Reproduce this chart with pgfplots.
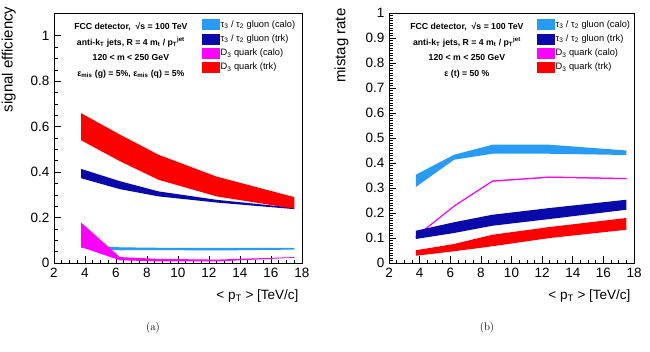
\documentclass[border=0pt]{standalone}
\usepackage{fontspec}
\setsansfont{Liberation Sans}
\usepackage{pgfplots}
\pgfplotsset{compat=1.18}
\definecolor{lblue}{RGB}{40,155,245}
\definecolor{dblue}{RGB}{10,10,170}
\definecolor{mag}{RGB}{255,0,255}
\definecolor{rred}{RGB}{255,0,0}
\pgfplotsset{rootstyle/.style={
  scale only axis, height=250pt, anchor=south west,
  xmin=2, xmax=18, xtick={2,4,...,18}, minor x tick num=3,
  tick pos=left, tick align=inside,
  major tick length=7pt, minor tick length=3.5pt,
  every tick/.style={black, line width=0.6pt},
  axis line style={line width=0.7pt},
  tick label style={font=\sffamily\fontsize{13.5}{13.5}\selectfont},
  xticklabel shift=2pt, yticklabel shift=1pt,
  /pgf/number format/assume math mode=true,
  xlabel={< p\textsubscript{T} > [TeV/c]},
  xlabel style={font=\sffamily\fontsize{13.5}{13.5}\selectfont, at={(axis description cs:1,0)}, anchor=north east, yshift=-23pt},
  ylabel style={font=\sffamily\fontsize{15}{15}\selectfont, anchor=south east},
  legend cell align=left,
  legend style={draw=none, fill=none, font=\sffamily\fontsize{9.3}{9.3}\selectfont, anchor=north west, inner sep=0pt,
    row sep=3.2pt, nodes={inner sep=1pt, text height=7pt, text depth=2pt}},
}}
\newcommand{\swatch}[1]{\addlegendimage{legend image code/.code={\fill[#1] (0pt,-5pt) rectangle (17pt,5pt);}}}
\begin{document}
\begin{tikzpicture}
\path[use as bounding box] (0,0) rectangle (650pt,351pt);
% ---------------- (a)
\begin{axis}[rootstyle, at={(54pt,88pt)}, width=248pt,
  ymin=0, ymax=1.1, ytick={0,0.2,...,1.0}, minor y tick num=3,
  ylabel={signal efficiency}, ylabel style={at={(axis description cs:-0.14,1.04)}},
  legend style={at={(rel axis cs:0.597,0.976)}}]
\addplot[fill=lblue, draw=none, forget plot] coordinates {(3.75,0.080)(6.25,0.069)(8.75,0.067)(12.5,0.066)(17.5,0.067)
  (17.5,0.059)(12.5,0.055)(8.75,0.057)(6.25,0.056)(3.75,0.066)} -- cycle;
\addplot[fill=mag, draw=none, forget plot] coordinates {(3.75,0.178)(6.25,0.026)(8.75,0.018)(12.5,0.015)(17.5,0.026)
  (17.5,0.023)(12.5,0.007)(8.75,0.007)(6.25,0.012)(3.75,0.070)} -- cycle;
\addplot[fill=dblue, draw=none, forget plot] coordinates {(3.75,0.414)(6.25,0.360)(8.75,0.315)(12.5,0.278)(17.5,0.243)
  (17.5,0.237)(12.5,0.266)(8.75,0.293)(6.25,0.325)(3.75,0.373)} -- cycle;
\addplot[fill=rred, draw=none, forget plot] coordinates {(3.75,0.659)(6.25,0.565)(8.75,0.476)(12.5,0.380)(17.5,0.290)
  (17.5,0.239)(12.5,0.293)(8.75,0.366)(6.25,0.448)(3.75,0.540)} -- cycle;
\swatch{lblue}\addlegendentry{τ\textsubscript{3} / τ\textsubscript{2} gluon (calo)}
\swatch{dblue}\addlegendentry{τ\textsubscript{3} / τ\textsubscript{2} gluon (trk)}
\swatch{mag}\addlegendentry{D\textsubscript{3} quark (calo)}
\swatch{rred}\addlegendentry{D\textsubscript{3} quark (trk)}
\node[anchor=north, align=center, font=\sffamily\bfseries\fontsize{8.7}{15.5}\selectfont] at (rel axis cs:0.31,0.975)
  {FCC detector, \ √s = 100 TeV\\ anti-k\textsubscript{T} jets, R = 4 m\textsubscript{t} / p\textsubscript{T}\textsuperscript{jet}\\ 120 < m < 250 GeV\\ ε\textsubscript{mis} (g) = 5\%, ε\textsubscript{mis} (q) = 5\%};
\end{axis}
% ---------------- (b)
\begin{axis}[rootstyle, at={(389pt,88pt)}, width=245pt,
  ymin=0, ymax=1, ytick={0,0.1,...,1.0}, minor y tick num=9,
  ylabel={mistag rate}, ylabel style={at={(axis description cs:-0.151,1.032)}},
  legend style={at={(rel axis cs:0.604,0.976)}}]
\addplot[fill=lblue, draw=none, forget plot] coordinates {(3.75,0.353)(6.25,0.433)(8.75,0.473)(12.5,0.473)(17.5,0.450)
  (17.5,0.432)(12.5,0.437)(8.75,0.437)(6.25,0.413)(3.75,0.304)} -- cycle;
\addplot[fill=mag, draw=mag, line width=0.5pt, forget plot] coordinates {(3.75,0.107)(6.25,0.229)(8.75,0.329)(12.5,0.345)(17.5,0.339)
  (17.5,0.336)(12.5,0.342)(8.75,0.326)(6.25,0.226)(3.75,0.104)} -- cycle;
\addplot[fill=dblue, draw=none, forget plot] coordinates {(3.75,0.129)(6.25,0.163)(8.75,0.193)(12.5,0.220)(17.5,0.253)
  (17.5,0.213)(12.5,0.176)(8.75,0.149)(6.25,0.120)(3.75,0.096)} -- cycle;
\addplot[fill=rred, draw=none, forget plot] coordinates {(3.75,0.051)(6.25,0.076)(8.75,0.113)(12.5,0.144)(17.5,0.180)
  (17.5,0.133)(12.5,0.100)(8.75,0.067)(6.25,0.047)(3.75,0.029)} -- cycle;
\swatch{lblue}\addlegendentry{τ\textsubscript{3} / τ\textsubscript{2} gluon (calo)}
\swatch{dblue}\addlegendentry{τ\textsubscript{3} / τ\textsubscript{2} gluon (trk)}
\swatch{mag}\addlegendentry{D\textsubscript{3} quark (calo)}
\swatch{rred}\addlegendentry{D\textsubscript{3} quark (trk)}
\node[anchor=north, align=center, font=\sffamily\bfseries\fontsize{8.7}{15.5}\selectfont] at (rel axis cs:0.318,0.975)
  {FCC detector, \ √s = 100 TeV\\ anti-k\textsubscript{T} jets, R = 4 m\textsubscript{t} / p\textsubscript{T}\textsuperscript{jet}\\ 120 < m < 250 GeV\\ ε (t) = 50 \%};
\end{axis}
\node[font=\fontsize{11}{11}\selectfont] at (153pt,23pt) {(a)};
\node[font=\fontsize{11}{11}\selectfont] at (487pt,23pt) {(b)};
\end{tikzpicture}
\end{document}
